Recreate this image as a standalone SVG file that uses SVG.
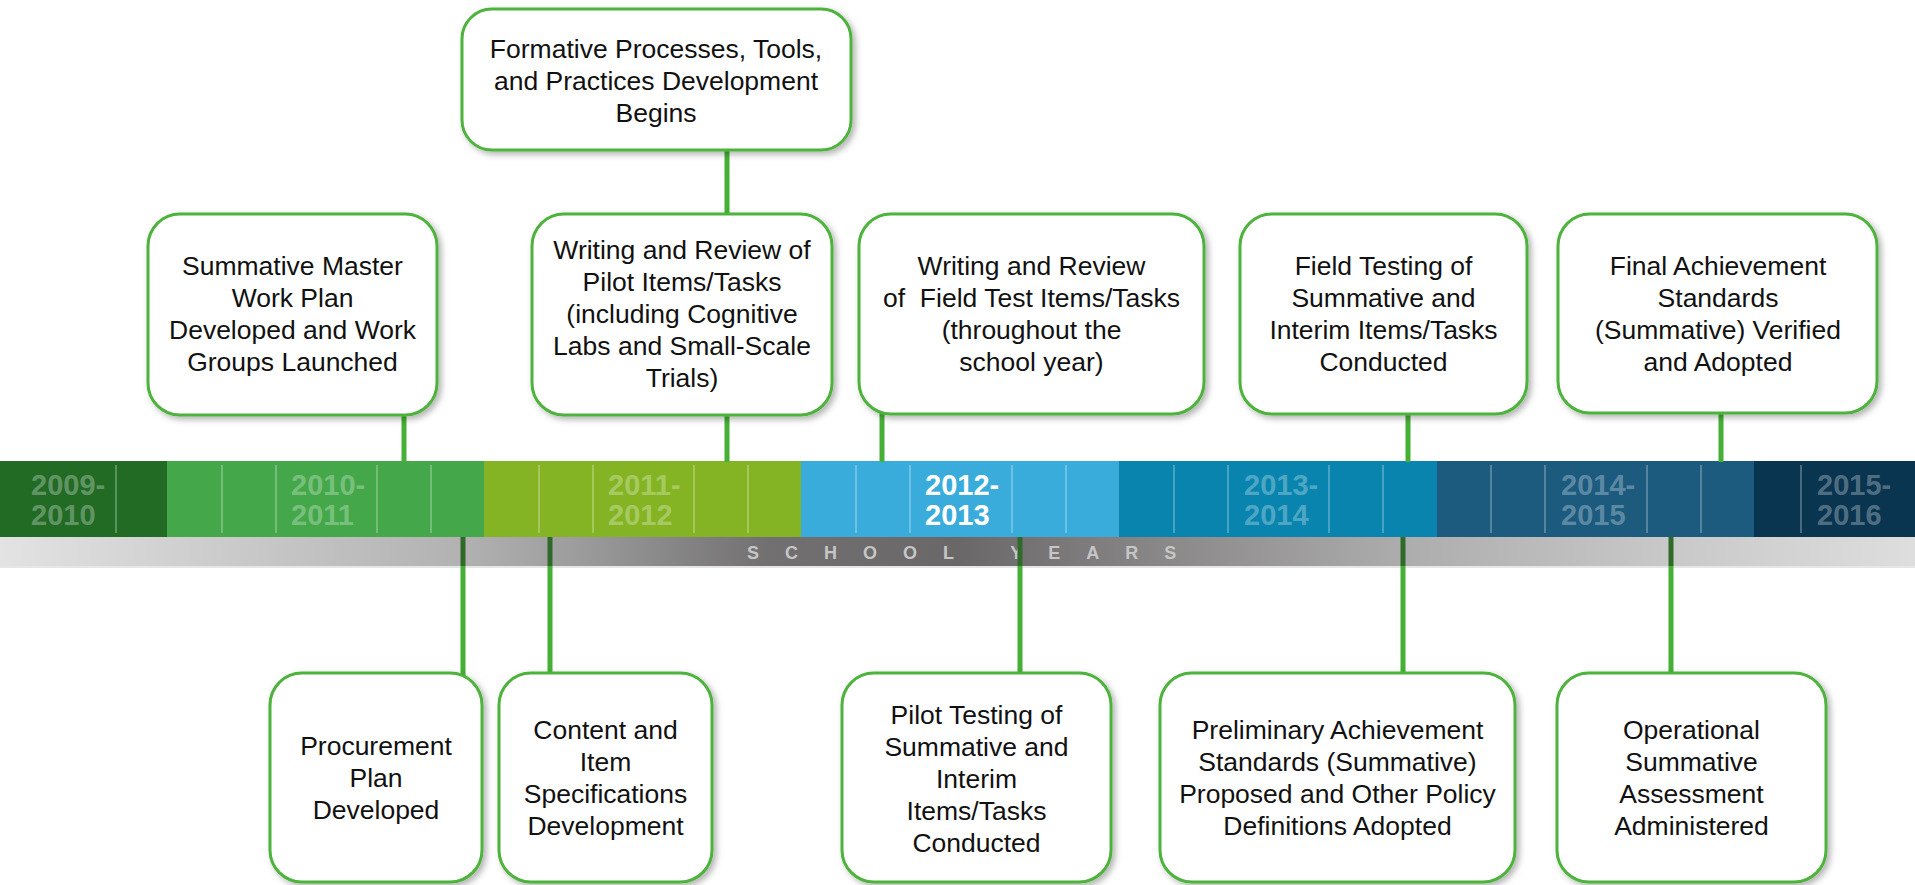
<svg xmlns="http://www.w3.org/2000/svg" width="1915" height="885" viewBox="0 0 1915 885">
<defs>
<linearGradient id="gbar" gradientUnits="userSpaceOnUse" x1="0" y1="0" x2="1915" y2="0">
<stop offset="0" stop-color="#e3e3e3"/>
<stop offset="0.24" stop-color="#b2b2b2"/>
<stop offset="0.3" stop-color="#9e9d9d"/>
<stop offset="0.4" stop-color="#727071"/>
<stop offset="0.5" stop-color="#6a6768"/>
<stop offset="0.56" stop-color="#7c797a"/>
<stop offset="0.73" stop-color="#adacac"/>
<stop offset="0.87" stop-color="#c8c8c8"/>
<stop offset="1" stop-color="#dedede"/>
</linearGradient>
<filter id="sh" x="-10%" y="-10%" width="125%" height="125%">
<feDropShadow dx="3" dy="3" stdDeviation="3" flood-color="#000" flood-opacity="0.3"/>
</filter>
</defs>
<style>
.box{fill:#fff;stroke:#4db33c;stroke-width:3;filter:url(#sh)}
.t{font-family:"Liberation Sans",Arial,Helvetica,sans-serif;font-size:26.5px;fill:#111;text-anchor:middle}
.yr{font-family:"Liberation Sans",Arial,Helvetica,sans-serif;font-size:29px;font-weight:bold;fill:#fff;fill-opacity:0.3}
.yrc{fill-opacity:1}
.tick{stroke:#fff;stroke-opacity:0.35;stroke-width:1.5}
.con{stroke:#45b035;stroke-width:5;fill:none}
.cond{stroke:#2f6a2a;stroke-width:5;fill:none}
.sy{font-family:"Liberation Sans",Arial,Helvetica,sans-serif;font-size:18px;font-weight:bold;fill:#c6c6c6;letter-spacing:26px}
</style>
<rect width="1915" height="885" fill="#fff"/>
<g id="timeline">
<rect x="0" y="461" width="167" height="76" fill="#226b25"/>
<rect x="167" y="461" width="317" height="76" fill="#44a74a"/>
<rect x="484" y="461" width="317" height="76" fill="#84b423"/>
<rect x="801" y="461" width="318" height="76" fill="#3aacdc"/>
<rect x="1119" y="461" width="318" height="76" fill="#0884ae"/>
<rect x="1437" y="461" width="317" height="76" fill="#1c5a7e"/>
<rect x="1754" y="461" width="161" height="76" fill="#0a3550"/>
<g class="tick">
<line x1="116" y1="465" x2="116" y2="533"/>
<line x1="222" y1="465" x2="222" y2="533"/><line x1="276" y1="465" x2="276" y2="533"/><line x1="377" y1="465" x2="377" y2="533"/><line x1="431" y1="465" x2="431" y2="533"/>
<line x1="539" y1="465" x2="539" y2="533"/><line x1="593" y1="465" x2="593" y2="533"/><line x1="694" y1="465" x2="694" y2="533"/><line x1="748" y1="465" x2="748" y2="533"/>
<line x1="856" y1="465" x2="856" y2="533"/><line x1="910" y1="465" x2="910" y2="533"/><line x1="1012" y1="465" x2="1012" y2="533"/><line x1="1066" y1="465" x2="1066" y2="533"/>
<line x1="1174" y1="465" x2="1174" y2="533"/><line x1="1228" y1="465" x2="1228" y2="533"/><line x1="1329" y1="465" x2="1329" y2="533"/><line x1="1383" y1="465" x2="1383" y2="533"/>
<line x1="1491" y1="465" x2="1491" y2="533"/><line x1="1545" y1="465" x2="1545" y2="533"/><line x1="1647" y1="465" x2="1647" y2="533"/><line x1="1701" y1="465" x2="1701" y2="533"/>
<line x1="1801" y1="465" x2="1801" y2="533"/>
</g>
<text class="yr" x="31" y="495">2009-<tspan x="31" y="525">2010</tspan></text>
<text class="yr" x="291" y="495">2010-<tspan x="291" y="525">2011</tspan></text>
<text class="yr" x="608" y="495">2011-<tspan x="608" y="525">2012</tspan></text>
<text class="yr yrc" x="925" y="495">2012-<tspan x="925" y="525">2013</tspan></text>
<text class="yr" x="1244" y="495">2013-<tspan x="1244" y="525">2014</tspan></text>
<text class="yr" x="1561" y="495">2014-<tspan x="1561" y="525">2015</tspan></text>
<text class="yr" x="1817" y="495">2015-<tspan x="1817" y="525">2016</tspan></text>
<rect x="0" y="537" width="1915" height="31" fill="url(#gbar)"/>
<rect x="0" y="566" width="1915" height="2" fill="#e6e6e6"/>
<text class="sy" x="747" y="559">SCHOOL YEARS</text>
</g>
<g id="connectors">
<path class="con" d="M404 414V462M727 149V214M727 414V462M882 413V462M1408 413V462M1721 412V462"/>
<path class="con" d="M463 566V680M550 566V680M1020 566V680M1403 566V680M1671 566V680"/>
<path class="cond" d="M463 537V566M550 537V566M1020 537V566M1403 537V566M1671 537V566"/>
</g>
<g id="n-formative">
<rect class="box" x="462" y="9" width="389" height="141" rx="30"/>
<text class="t" x="656" y="58">Formative Processes, Tools,<tspan x="656" y="90">and Practices Development</tspan><tspan x="656" y="122">Begins</tspan></text>
</g>
<g id="n-summative-master">
<rect class="box" x="148" y="214" width="289" height="201" rx="32"/>
<text class="t" x="292.5" y="275">Summative Master<tspan x="292.5" y="307">Work Plan</tspan><tspan x="292.5" y="339">Developed and Work</tspan><tspan x="292.5" y="371">Groups Launched</tspan></text>
</g>
<g id="n-writing-pilot">
<rect class="box" x="532" y="214" width="300" height="201" rx="32"/>
<text class="t" x="682" y="259">Writing and Review of<tspan x="682" y="291">Pilot Items/Tasks</tspan><tspan x="682" y="323">(including Cognitive</tspan><tspan x="682" y="355">Labs and Small-Scale</tspan><tspan x="682" y="387">Trials)</tspan></text>
</g>
<g id="n-writing-field">
<rect class="box" x="859" y="214" width="345" height="200" rx="32"/>
<text class="t" x="1031.5" y="275" xml:space="preserve">Writing and Review<tspan x="1031.5" y="307">of  Field Test Items/Tasks</tspan><tspan x="1031.5" y="339">(throughout the</tspan><tspan x="1031.5" y="371">school year)</tspan></text>
</g>
<g id="n-field-testing">
<rect class="box" x="1240" y="214" width="287" height="200" rx="32"/>
<text class="t" x="1383.5" y="275">Field Testing of<tspan x="1383.5" y="307">Summative and</tspan><tspan x="1383.5" y="339">Interim Items/Tasks</tspan><tspan x="1383.5" y="371">Conducted</tspan></text>
</g>
<g id="n-final">
<rect class="box" x="1558" y="214" width="319" height="199" rx="32"/>
<text class="t" x="1718" y="275">Final Achievement<tspan x="1718" y="307">Standards</tspan><tspan x="1718" y="339">(Summative) Verified</tspan><tspan x="1718" y="371">and Adopted</tspan></text>
</g>
<g id="n-procurement">
<rect class="box" x="270" y="673" width="212" height="209" rx="32"/>
<text class="t" x="376" y="755">Procurement<tspan x="376" y="787">Plan</tspan><tspan x="376" y="819">Developed</tspan></text>
</g>
<g id="n-content">
<rect class="box" x="499" y="673" width="213" height="209" rx="32"/>
<text class="t" x="605.5" y="739">Content and<tspan x="605.5" y="771">Item</tspan><tspan x="605.5" y="803">Specifications</tspan><tspan x="605.5" y="835">Development</tspan></text>
</g>
<g id="n-pilot-testing">
<rect class="box" x="842" y="673" width="269" height="209" rx="32"/>
<text class="t" x="976.5" y="724">Pilot Testing of<tspan x="976.5" y="756">Summative and</tspan><tspan x="976.5" y="788">Interim</tspan><tspan x="976.5" y="820">Items/Tasks</tspan><tspan x="976.5" y="852">Conducted</tspan></text>
</g>
<g id="n-preliminary">
<rect class="box" x="1160" y="673" width="355" height="209" rx="32"/>
<text class="t" x="1337.5" y="739">Preliminary Achievement<tspan x="1337.5" y="771">Standards (Summative)</tspan><tspan x="1337.5" y="803">Proposed and Other Policy</tspan><tspan x="1337.5" y="835">Definitions Adopted</tspan></text>
</g>
<g id="n-operational">
<rect class="box" x="1557" y="673" width="269" height="209" rx="32"/>
<text class="t" x="1691.5" y="739">Operational<tspan x="1691.5" y="771">Summative</tspan><tspan x="1691.5" y="803">Assessment</tspan><tspan x="1691.5" y="835">Administered</tspan></text>
</g>
</svg>
